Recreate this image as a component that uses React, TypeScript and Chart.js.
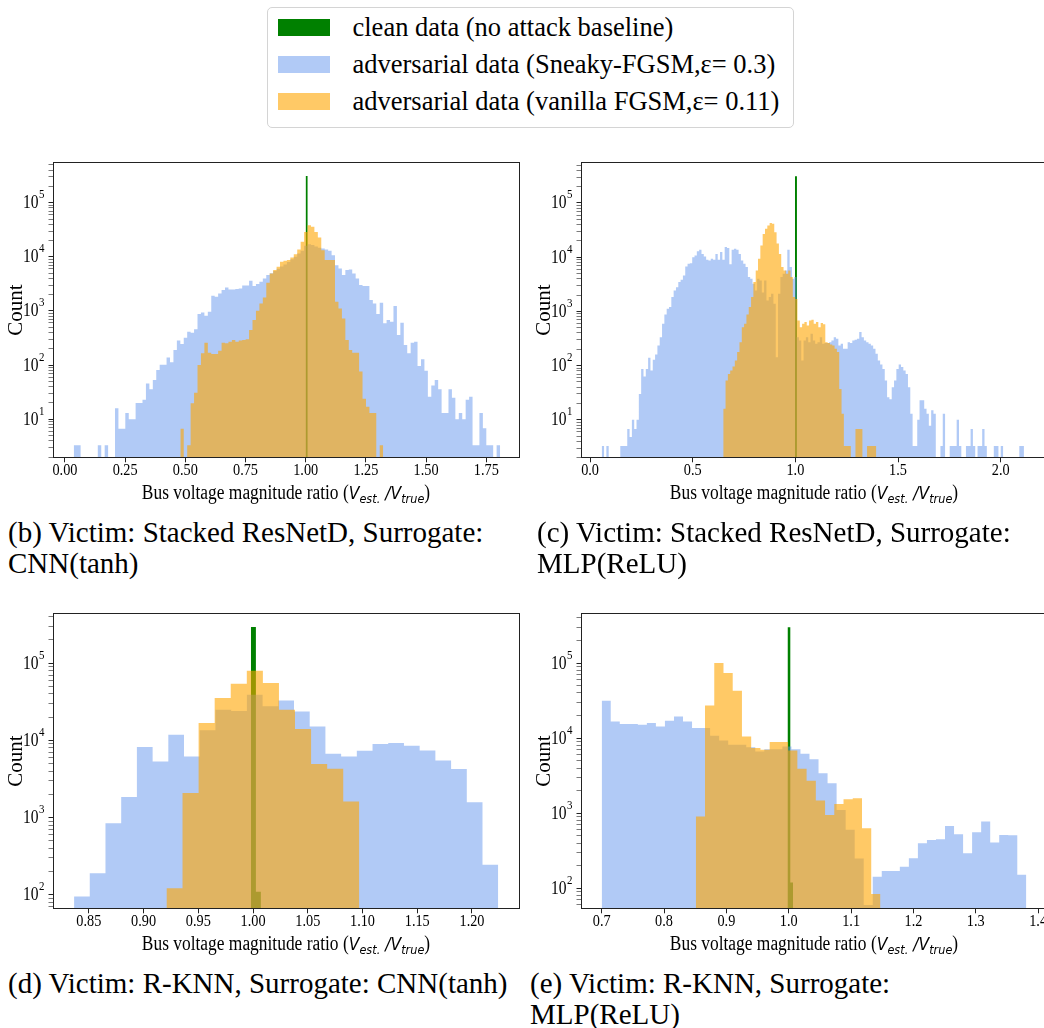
import { useEffect, useRef } from "react";
import { Chart, registerables } from "chart.js";

Chart.register(...registerables);

const SERIF = "'Liberation Serif', 'Times New Roman', Times, serif";
const MATH = "'DejaVu Sans', 'Liberation Sans', sans-serif";

const CLEAN_COLOR = "#008000";
const SNEAKY_COLOR = "rgba(100, 149, 237, 0.5)";
const VANILLA_COLOR = "rgba(255, 165, 0, 0.6)";

const LEGEND_LABELS = [
  "clean data (no attack baseline)",
  "adversarial data (Sneaky-FGSM,\u03b5= 0.3)",
  "adversarial data (vanilla FGSM,\u03b5= 0.11)",
];
const Y_TITLE = "Count";

// ---- (b) Victim: Stacked ResNetD, Surrogate: CNN(tanh)
const B_X_TICKS = [0, 0.25, 0.5, 0.75, 1.0, 1.25, 1.5, 1.75];
const B_SNEAKY_START = 0.0365;
const B_SNEAKY_BIN = 0.01428;
const B_SNEAKY_COUNTS = [
  3.3, 3.3, 0, 0, 0, 0, 0, 3.3, 0, 3.3,
  0, 0, 16, 6.7, 6.7, 13, 10, 10, 20, 20,
  23, 46, 36, 53, 81, 102, 102, 139, 113, 190,
  284, 245, 321, 414, 397, 458, 877, 942, 817, 968,
  1908, 1832, 2113, 2432, 2722, 2500, 2500, 2550, 2612, 2966,
  2966, 3612, 2884, 3140, 3470, 3990, 4600, 5000, 5500, 6000,
  6600, 7200, 8000, 9000, 10000, 11500, 13000, 16000, 17000, 16500,
  15500, 14800, 14290, 13700, 13000, 10760, 7000, 6100, 4600, 5690,
  5860, 4940, 3990, 3010, 2880, 2880, 1590, 1380, 877, 1420,
  591, 680, 634, 1233, 360, 608, 235, 165, 260, 271,
  96, 128, 79, 26, 42, 53, 36, 13, 13, 36,
  25, 10, 13, 10, 23, 26, 3.3, 3.3, 13, 6.8,
  3.3, 3.3, 0, 3.3,
];
const B_VANILLA_START = 0.4792;
const B_VANILLA_BIN = 0.01428;
const B_VANILLA_COUNTS = [
  6.7, 0, 3.3, 19.7, 31, 101, 165, 260, 170, 160,
  160, 185, 260, 253, 271, 291, 271, 284, 291, 299,
  445, 680, 1011, 1380, 1780, 3330, 4940, 5690, 6560, 8110,
  8450, 8700, 9750, 11200, 13700, 18950, 28900, 38500, 35900, 28900,
  22800, 13300, 8700, 8700, 8700, 1480, 1117, 730, 291, 190,
  170, 170, 76, 24, 17, 13, 13, 0, 3.3,
];
const B_CLEAN_START = 0.9995;
const B_CLEAN_BIN = 0.009;
const B_CLEAN_COUNTS = [310000];

// ---- (c) Victim: Stacked ResNetD, Surrogate: MLP(ReLU)
const C_X_TICKS = [0, 0.5, 1.0, 1.5, 2.0];
const C_SNEAKY_START = 0.0567;
const C_SNEAKY_BIN = 0.0113;
const C_SNEAKY_COUNTS = [
  3.3, 0, 3.3, 0, 0, 0, 0, 0, 3.3, 3.3,
  3.3, 6.8, 4.8, 10, 6.8, 10, 30, 87, 63, 87,
  139, 81, 128, 160, 235, 335, 591, 877, 1117, 1200,
  1840, 2430, 2800, 3480, 3840, 4600, 6720, 7550, 7770, 10000,
  10760, 12900, 13700, 11500, 10300, 8940, 8700, 9340, 8940, 11500,
  8940, 12400, 8940, 15400, 14800, 7400, 13700, 14290, 13700, 11500,
  8700, 7550, 6560, 4300, 3990, 3220, 2430, 3990, 3700, 2230,
  3700, 1590, 1840, 2110, 1380, 143, 2110, 4300, 4940, 5690,
  13700, 6560, 3990, 4300, 335, 290, 124, 290, 335, 271,
  387, 290, 253, 271, 335, 253, 260, 260, 271, 290,
  335, 313, 235, 253, 204, 204, 271, 260, 290, 300,
  313, 415, 335, 290, 271, 253, 235, 204, 165, 124,
  105, 87, 53, 26, 24, 40, 53, 87, 105, 94,
  81, 70, 40, 13, 3.3, 3.3, 10, 23, 23, 16,
  13, 7.8, 15, 13, 0, 0, 3.3, 13, 0, 0,
  3.3, 3.3, 3.3, 10, 3.3, 0, 0, 3.3, 3.3, 6.8,
  3.3, 0, 3.3, 3.3, 6.8, 3.3, 0, 0, 0, 3.3,
  3.3, 0, 3.3, 0, 0, 0, 0, 0, 0, 0,
  3.3, 3.3,
];
const C_VANILLA_START = 0.6485;
const C_VANILLA_BIN = 0.0113;
const C_VANILLA_COUNTS = [
  16, 53, 70, 81, 96, 124, 178, 271, 510, 591,
  877, 1200, 1840, 3480, 5690, 9340, 16450, 26900, 33500, 38500,
  42500, 41200, 28900, 17900, 11500, 6560, 5690, 4940, 5690, 4300,
  1840, 1700, 680, 510, 591, 634, 552, 680, 700, 591,
  634, 510, 608, 577, 271, 260, 245, 235, 204, 178,
  37, 13, 3.3, 3.3, 3.3, 0, 0, 6.8, 6.8, 6.8,
  0, 0, 3.3, 3.3, 3.3, 3.3,
];
const C_CLEAN_START = 0.998;
const C_CLEAN_BIN = 0.0097;
const C_CLEAN_COUNTS = [310000];

// ---- (d) Victim: R-KNN, Surrogate: CNN(tanh)
const D_X_TICKS = [0.85, 0.9, 0.95, 1.0, 1.05, 1.1, 1.15, 1.2];
const D_SNEAKY_START = 0.8365;
const D_SNEAKY_BIN = 0.01435;
const D_SNEAKY_COUNTS = [
  95, 191, 848, 1841, 8180, 5340, 11800, 6190, 13460, 24900,
  24000, 38950, 27550, 32900, 23700, 15140, 6700, 6190, 7330, 8950,
  9220, 8520, 7410, 5500, 4250, 1585, 245,
];
const D_VANILLA_START = 0.9209;
const D_VANILLA_BIN = 0.01468;
const D_VANILLA_COUNTS = [
  122, 2075, 16750, 35240, 54100, 79800, 55200, 24900, 14000, 4930, 4290, 1620,
];
const D_CLEAN_START = 0.998;
const D_CLEAN_BIN = 0.0046;
const D_CLEAN_COUNTS = [293000, 110];

// ---- (e) Victim: R-KNN, Surrogate: MLP(ReLU)
const E_X_TICKS = [0.7, 0.8, 0.9, 1.0, 1.1, 1.2, 1.3, 1.4];
const E_SNEAKY_START = 0.7;
const E_SNEAKY_BIN = 0.01449;
const E_SNEAKY_COUNTS = [
  31450, 16700, 15370, 15370, 15060, 15850, 14310, 17030, 19450, 16700,
  13600, 13600, 10740, 9310, 8150, 8150, 7580, 6640, 7130, 7130,
  7740, 7130, 6180, 5250, 3410, 2510, 1107, 600, 250, 60,
  143, 170, 170, 194, 251, 398, 441, 450, 678, 525,
  293, 558, 774, 406, 514, 509, 151,
];
const E_VANILLA_START = 0.8509;
const E_VANILLA_BIN = 0.01481;
const E_VANILLA_COUNTS = [
  903, 27300, 100000, 73600, 42800, 10520, 7360, 6990, 8850, 8850,
  6850, 3900, 2700, 1475, 950, 1330, 1540, 1585, 631, 84,
];
const E_CLEAN_START = 0.998;
const E_CLEAN_BIN = 0.0045;
const E_CLEAN_COUNTS = [300000, 119];

// ---- layout of each axes box (canvas-relative)
const CANVAS_W = 545;
const CANVAS_H = 362;
const Y_AXIS_W = 52.5;
const X_AXIS_H = 43.7;
const PAD_TOP = 22;
const PAD_RIGHT = 25.5;
const TICK_LEN = 4;
const X_TICK_SIZE = 17;
const Y_TICK_SIZE = 18.5;
const EXP_SIZE = 13;
// axis text in the subplots is set slightly condensed
const SQUEEZE = 0.84;
// points below every axis minimum: empty bins sink under the x axis
const EMPTY_BIN = 1e-3;

type Series = { start: number; bin: number; counts: number[]; color: string; order: number };

type PanelProps = {
  left: number;
  top: number;
  xMin: number;
  xMax: number;
  xTicks: number[];
  xDigits: number;
  yMin: number;
  yMax: number;
  series: Series[];
};

function histogramSteps(start: number, bin: number, counts: number[]) {
  const pts = counts.map((c, i) => ({ x: start + i * bin, y: c > 0 ? c : EMPTY_BIN }));
  pts.push({ x: start + counts.length * bin, y: EMPTY_BIN });
  return pts;
}

function isDecade(v: number) {
  const e = Math.log10(v);
  return Math.abs(e - Math.round(e)) < 1e-6;
}

function logTickValues(min: number, max: number) {
  const out: number[] = [];
  for (let e = Math.floor(Math.log10(min)); e <= Math.ceil(Math.log10(max)); e++) {
    for (let m = 1; m <= 9; m++) {
      const v = m * Math.pow(10, e);
      if (v >= min && v <= max) out.push(v);
    }
  }
  return out;
}

// frame on all four sides of the axes box
const spinesPlugin = {
  id: "spines",
  afterDatasetsDraw(chart: any) {
    const { ctx, chartArea } = chart;
    const l = Math.round(chartArea.left) + 0.5;
    const t = Math.round(chartArea.top) + 0.5;
    const r = Math.round(chartArea.right) - 0.5;
    const b = Math.round(chartArea.bottom) - 0.5;
    ctx.save();
    ctx.strokeStyle = "#222";
    ctx.lineWidth = 1;
    ctx.strokeRect(l, t, r - l, b - t);
    ctx.restore();
  },
};

// tick labels: condensed serif numbers, powers of ten as 10 with a raised exponent
const tickLabelPlugin = {
  id: "tickLabels",
  afterDraw(chart: any, _args: any, opts: any) {
    const { ctx } = chart;
    const xs = chart.scales.x;
    const ys = chart.scales.y;
    ctx.save();
    ctx.fillStyle = "#000";
    ctx.textBaseline = "alphabetic";

    ctx.font = `${X_TICK_SIZE}px ${SERIF}`;
    ctx.textAlign = "center";
    for (const t of xs.ticks) {
      const px = xs.getPixelForValue(t.value);
      ctx.save();
      ctx.translate(px, xs.top + 17);
      ctx.scale(SQUEEZE, 1);
      ctx.fillText(Number(t.value).toFixed(opts.digits), 0, 0);
      ctx.restore();
    }

    for (const t of ys.ticks) {
      if (!isDecade(t.value)) continue;
      const py = ys.getPixelForValue(t.value);
      const exp = String(Math.round(Math.log10(t.value)));
      ctx.save();
      ctx.translate(ys.right - TICK_LEN - 4, py);
      ctx.scale(SQUEEZE, 1);
      ctx.font = `${EXP_SIZE}px ${SERIF}`;
      ctx.textAlign = "right";
      const ew = ctx.measureText(exp).width;
      ctx.fillText(exp, 0, -4.5);
      ctx.font = `${Y_TICK_SIZE}px ${SERIF}`;
      ctx.fillText("10", -ew - 0.5, 5.5);
      ctx.restore();
    }
    ctx.restore();
  },
};

function HistogramPanel(p: PanelProps) {
  const ref = useRef<HTMLCanvasElement>(null);
  useEffect(() => {
    if (!ref.current) return;
    const yTicks = logTickValues(p.yMin, p.yMax);
    const chart = new Chart(ref.current, {
      type: "line",
      data: {
        datasets: p.series.map((s) => ({
          data: histogramSteps(s.start, s.bin, s.counts),
          stepped: "before" as const,
          fill: "start",
          backgroundColor: s.color,
          borderColor: "rgba(0,0,0,0)",
          borderWidth: 0,
          pointRadius: 0,
          pointHoverRadius: 0,
          tension: 0,
          order: s.order,
        })),
      },
      options: {
        animation: false,
        responsive: false,
        maintainAspectRatio: false,
        devicePixelRatio: 1,
        events: [],
        layout: { padding: { left: 0, top: PAD_TOP, right: PAD_RIGHT, bottom: 0 } },
        plugins: {
          legend: { display: false },
          tooltip: { enabled: false },
          tickLabels: { digits: p.xDigits },
        },
        scales: {
          x: {
            type: "linear",
            min: p.xMin,
            max: p.xMax,
            bounds: "data",
            afterFit: (s: any) => {
              s.height = X_AXIS_H;
            },
            afterBuildTicks: (s: any) => {
              s.ticks = p.xTicks.map((v) => ({ value: v }));
            },
            ticks: { display: false, autoSkip: false, maxRotation: 0, minRotation: 0 },
            grid: {
              display: true,
              drawOnChartArea: false,
              drawTicks: true,
              tickLength: TICK_LEN,
              tickColor: "#222",
              tickWidth: 1,
            },
            border: { display: false },
          },
          y: {
            type: "logarithmic",
            min: p.yMin,
            max: p.yMax,
            bounds: "data",
            afterFit: (s: any) => {
              s.width = Y_AXIS_W;
            },
            afterBuildTicks: (s: any) => {
              s.ticks = yTicks.map((v) => ({ value: v, major: false }));
            },
            ticks: { display: false, autoSkip: false },
            grid: {
              display: true,
              drawOnChartArea: false,
              drawTicks: true,
              tickLength: TICK_LEN,
              tickColor: "#222",
              tickWidth: (c: any) => (c.tick && isDecade(c.tick.value) ? 1 : 0.6),
            },
            border: { display: false },
            title: {
              display: true,
              text: Y_TITLE,
              color: "#000",
              font: { family: SERIF, size: 21 },
              padding: { top: 4, bottom: 0 },
            },
          },
        },
      } as any,
      plugins: [spinesPlugin, tickLabelPlugin],
    });
    return () => chart.destroy();
  }, []);
  return (
    <canvas
      ref={ref}
      width={CANVAS_W}
      height={CANVAS_H}
      style={{ position: "absolute", left: p.left, top: p.top, width: CANVAS_W, height: CANVAS_H, display: "block" }}
    />
  );
}

const SUB_STYLE: React.CSSProperties = { fontSize: "0.72em", verticalAlign: "-0.32em", lineHeight: 0 };

function XTitle({ cx, cy }: { cx: number; cy: number }) {
  return (
    <div
      style={{
        position: "absolute",
        left: cx,
        top: cy - 13,
        transform: "translateX(-50%) scaleX(0.87)",
        whiteSpace: "nowrap",
        fontFamily: SERIF,
        fontSize: 20,
        lineHeight: "26px",
        color: "#000",
      }}
    >
      Bus voltage magnitude ratio (
      <span style={{ fontFamily: MATH, fontStyle: "italic", fontSize: 18 }}>
        V<sub style={SUB_STYLE}>est.</sub> /V<sub style={SUB_STYLE}>true</sub>
      </span>
      )
    </div>
  );
}

function Caption({ left, top, lines }: { left: number; top: number; lines: string[] }) {
  return (
    <div
      style={{
        position: "absolute",
        left,
        top,
        whiteSpace: "nowrap",
        fontFamily: SERIF,
        fontSize: 29,
        lineHeight: "31px",
        color: "#000",
      }}
    >
      {lines.map((l, i) => (
        <div key={i}>{l}</div>
      ))}
    </div>
  );
}

function Legend() {
  const colors = [CLEAN_COLOR, SNEAKY_COLOR, VANILLA_COLOR];
  const rowCenters = [19.5, 56.5, 94];
  return (
    <div
      style={{
        position: "absolute",
        left: 266.5,
        top: 7,
        width: 527,
        height: 121,
        boxSizing: "border-box",
        border: "1px solid #d4d4d4",
        borderRadius: 5,
        background: "#fff",
      }}
    >
      {LEGEND_LABELS.map((label, i) => (
        <div key={i}>
          <div
            style={{
              position: "absolute",
              left: 10,
              top: rowCenters[i] - 9,
              width: 52,
              height: 17,
              background: colors[i],
            }}
          />
          <div
            style={{
              position: "absolute",
              left: 85,
              top: rowCenters[i] - 16,
              whiteSpace: "nowrap",
              fontFamily: SERIF,
              fontSize: 26.5,
              lineHeight: "30px",
              color: "#000",
            }}
          >
            {label}
          </div>
        </div>
      ))}
    </div>
  );
}

function panelSeries(
  clean: [number, number, number[]],
  sneaky: [number, number, number[]],
  vanilla: [number, number, number[]]
): Series[] {
  return [
    { start: vanilla[0], bin: vanilla[1], counts: vanilla[2], color: VANILLA_COLOR, order: 0 },
    { start: sneaky[0], bin: sneaky[1], counts: sneaky[2], color: SNEAKY_COLOR, order: 1 },
    { start: clean[0], bin: clean[1], counts: clean[2], color: CLEAN_COLOR, order: 2 },
  ];
}

export default function App() {
  return (
    <div
      style={{
        position: "absolute",
        left: 0,
        top: 0,
        width: 1044,
        height: 1028,
        overflow: "hidden",
        background: "#fff",
      }}
    >
      <Legend />

      <HistogramPanel
        left={0}
        top={140}
        xMin={-0.0517}
        xMax={1.888}
        xTicks={B_X_TICKS}
        xDigits={2}
        yMin={1.9}
        yMax={5.65e5}
        series={panelSeries(
          [B_CLEAN_START, B_CLEAN_BIN, B_CLEAN_COUNTS],
          [B_SNEAKY_START, B_SNEAKY_BIN, B_SNEAKY_COUNTS],
          [B_VANILLA_START, B_VANILLA_BIN, B_VANILLA_COUNTS]
        )}
      />
      <HistogramPanel
        left={528}
        top={140}
        xMin={-0.0467}
        xMax={2.228}
        xTicks={C_X_TICKS}
        xDigits={1}
        yMin={1.95}
        yMax={5.7e5}
        series={panelSeries(
          [C_CLEAN_START, C_CLEAN_BIN, C_CLEAN_COUNTS],
          [C_SNEAKY_START, C_SNEAKY_BIN, C_SNEAKY_COUNTS],
          [C_VANILLA_START, C_VANILLA_BIN, C_VANILLA_COUNTS]
        )}
      />
      <HistogramPanel
        left={0}
        top={591}
        xMin={0.8168}
        xMax={1.2434}
        xTicks={D_X_TICKS}
        xDigits={2}
        yMin={65}
        yMax={4.45e5}
        series={panelSeries(
          [D_CLEAN_START, D_CLEAN_BIN, D_CLEAN_COUNTS],
          [D_SNEAKY_START, D_SNEAKY_BIN, D_SNEAKY_COUNTS],
          [D_VANILLA_START, D_VANILLA_BIN, D_VANILLA_COUNTS]
        )}
      />
      <HistogramPanel
        left={528}
        top={591}
        xMin={0.666}
        xMax={1.415}
        xTicks={E_X_TICKS}
        xDigits={1}
        yMin={52.5}
        yMax={4.64e5}
        series={panelSeries(
          [E_CLEAN_START, E_CLEAN_BIN, E_CLEAN_COUNTS],
          [E_SNEAKY_START, E_SNEAKY_BIN, E_SNEAKY_COUNTS],
          [E_VANILLA_START, E_VANILLA_BIN, E_VANILLA_COUNTS]
        )}
      />

      <XTitle cx={286} cy={492} />
      <XTitle cx={814} cy={492} />
      <XTitle cx={286} cy={943} />
      <XTitle cx={814} cy={943} />

      <Caption left={8} top={516.5} lines={["(b) Victim: Stacked ResNetD, Surrogate:", "CNN(tanh)"]} />
      <Caption left={537} top={516.5} lines={["(c) Victim: Stacked ResNetD, Surrogate:", "MLP(ReLU)"]} />
      <Caption left={8} top={967.5} lines={["(d) Victim: R-KNN, Surrogate: CNN(tanh)"]} />
      <Caption left={530} top={967.5} lines={["(e) Victim: R-KNN, Surrogate:", "MLP(ReLU)"]} />
    </div>
  );
}
